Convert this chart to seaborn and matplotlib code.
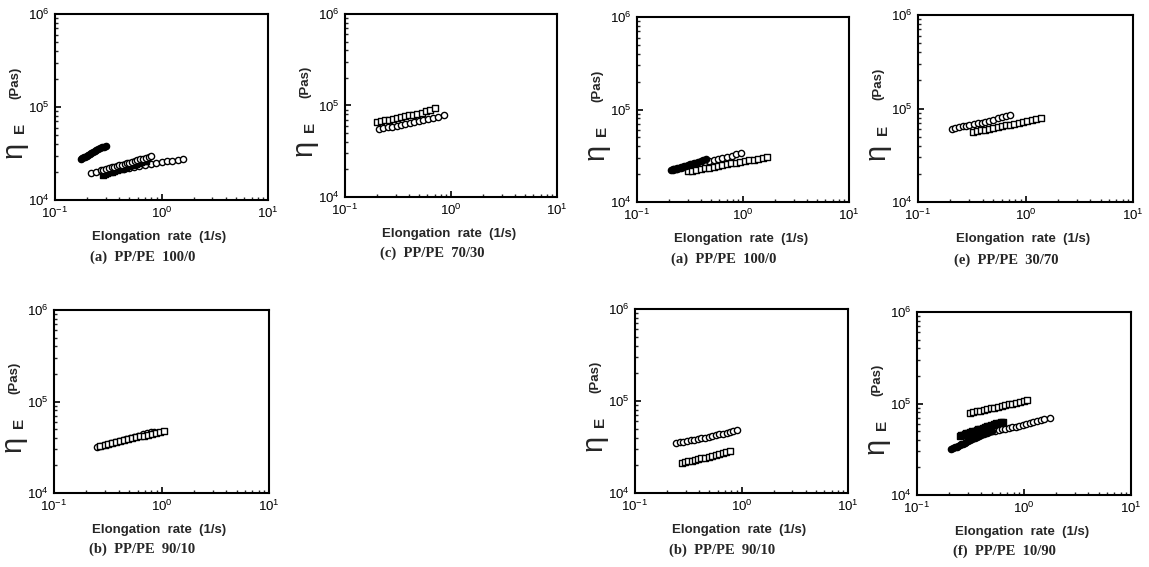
import matplotlib
matplotlib.use("Agg")
import matplotlib.pyplot as plt
import seaborn as sns
import pandas as pd
from matplotlib.ticker import FixedLocator, FixedFormatter, LogLocator, NullFormatter

# ---------------- data ----------------
# Panel (a) PP/PE 100/0  (left group)
pa_dc_x = [0.175, 0.18, 0.186, 0.192, 0.198, 0.205, 0.212, 0.22, 0.228, 0.236, 0.245, 0.255, 0.265, 0.275, 0.287, 0.30]
pa_dc_y = [27600, 28100, 28700, 29300, 29900, 30600, 31300, 32000, 32700, 33400, 34200, 35100, 36000, 36800, 37600, 38400]
pa_oc_x = [0.22, 0.245, 0.275, 0.31, 0.35, 0.39, 0.44, 0.49, 0.55, 0.62, 0.70, 0.79, 0.89, 1.0, 1.12, 1.26, 1.42, 1.58]
pa_oc_y = [19500, 19800, 20100, 20500, 20900, 21300, 21700, 22200, 22700, 23200, 23700, 24200, 24800, 25400, 26000, 26500, 27000, 27500]
pa_ds_x = [0.28, 0.295, 0.31, 0.325, 0.34, 0.36, 0.38, 0.40, 0.42, 0.44, 0.465, 0.49, 0.52, 0.55, 0.58, 0.61, 0.645, 0.68, 0.72]
pa_ds_y = [18800, 19200, 19500, 19900, 20200, 20600, 21000, 21400, 21800, 22200, 22600, 23000, 23500, 24000, 24400, 24900, 25400, 26000, 26500]
pa_dc2_x = [0.27, 0.285, 0.30, 0.32, 0.34, 0.36, 0.38, 0.40, 0.425, 0.45, 0.475, 0.50, 0.53, 0.56, 0.595, 0.63, 0.67, 0.71, 0.755, 0.80]
pa_dc2_y = [20800, 21200, 21600, 22000, 22400, 22800, 23200, 23600, 24000, 24400, 24900, 25300, 25800, 26300, 26800, 27300, 27800, 28300, 28900, 29500]

# Panel (c) PP/PE 70/30
pc_sq_x = [0.20, 0.22, 0.24, 0.26, 0.285, 0.31, 0.34, 0.37, 0.40, 0.44, 0.48, 0.53, 0.58, 0.64, 0.70]
pc_sq_y = [66000, 67300, 68600, 70000, 71500, 73000, 74600, 76200, 77800, 79600, 81500, 83600, 86000, 89000, 93000]
pc_ci_x = [0.21, 0.23, 0.255, 0.28, 0.31, 0.34, 0.37, 0.41, 0.45, 0.50, 0.55, 0.61, 0.68, 0.76, 0.85]
pc_ci_y = [55000, 56200, 57500, 58800, 60200, 61600, 63000, 64600, 66200, 67900, 69700, 71600, 73600, 75800, 78000]

# Panel (b) PP/PE 90/10  (left group)
pb_ci_x = [0.25, 0.27, 0.29, 0.315, 0.34, 0.37, 0.40, 0.435, 0.47, 0.51, 0.56, 0.61, 0.67, 0.74, 0.80, 0.85]
pb_ci_y = [32000, 32900, 33700, 34600, 35500, 36400, 37300, 38300, 39300, 40300, 41400, 42500, 43700, 45000, 46200, 47000]
pb_sq_x = [0.27, 0.295, 0.32, 0.35, 0.38, 0.415, 0.45, 0.49, 0.535, 0.58, 0.63, 0.69, 0.75, 0.82, 0.89, 0.97, 1.05]
pb_sq_y = [33000, 33800, 34600, 35400, 36200, 37000, 37900, 38800, 39700, 40600, 41500, 42400, 43400, 44400, 45400, 46400, 47500]

# Panel (a) PP/PE 100/0  (right group)
qa_dc_x = [0.21, 0.217, 0.225, 0.233, 0.241, 0.25, 0.26, 0.27, 0.28, 0.29, 0.30, 0.315, 0.33, 0.345, 0.36, 0.38, 0.40, 0.42, 0.45]
qa_dc_y = [22000, 22300, 22600, 22900, 23200, 23500, 23800, 24100, 24500, 24800, 25100, 25500, 25900, 26300, 26700, 27200, 27700, 28300, 29000]
qa_ci_x = [0.22, 0.24, 0.26, 0.285, 0.31, 0.34, 0.37, 0.40, 0.44, 0.48, 0.53, 0.58, 0.64, 0.71, 0.78, 0.86, 0.95]
qa_ci_y = [22500, 23000, 23500, 24100, 24700, 25300, 25900, 26500, 27200, 27900, 28600, 29400, 30200, 31000, 31800, 32700, 33500]
qa_sq_x = [0.30, 0.33, 0.36, 0.40, 0.44, 0.48, 0.53, 0.58, 0.64, 0.70, 0.77, 0.85, 0.94, 1.04, 1.15, 1.27, 1.40, 1.55, 1.70]
qa_sq_y = [21500, 21900, 22300, 22700, 23100, 23600, 24100, 24600, 25100, 25600, 26100, 26600, 27100, 27600, 28200, 28800, 29400, 30000, 30500]

# Panel (e) PP/PE 30/70
pe_ci_x = [0.205, 0.22, 0.24, 0.26, 0.28, 0.30, 0.33, 0.36, 0.39, 0.42, 0.46, 0.50, 0.55, 0.60, 0.66, 0.72]
pe_ci_y = [61000, 62100, 63200, 64300, 65400, 66600, 67900, 69300, 70800, 72400, 74200, 76200, 78500, 81000, 83600, 86000]
pe_sq_x = [0.325, 0.355, 0.385, 0.42, 0.46, 0.50, 0.55, 0.60, 0.66, 0.72, 0.79, 0.87, 0.95, 1.04, 1.14, 1.26, 1.40]
pe_sq_y = [56000, 57200, 58300, 59500, 60700, 61900, 63200, 64500, 65800, 67200, 68700, 70300, 72000, 73800, 75800, 77900, 80000]

# Panel (b) PP/PE 90/10  (right group)
qb_ci_x = [0.245, 0.265, 0.285, 0.31, 0.335, 0.36, 0.39, 0.42, 0.455, 0.49, 0.53, 0.575, 0.62, 0.67, 0.725, 0.78, 0.84, 0.90]
qb_ci_y = [34900, 35500, 36100, 36700, 37400, 38000, 38700, 39400, 40100, 40900, 41700, 42500, 43400, 44300, 45200, 46100, 47000, 48000]
qb_sq_x = [0.275, 0.295, 0.315, 0.34, 0.365, 0.39, 0.42, 0.45, 0.49, 0.53, 0.57, 0.62, 0.67, 0.72, 0.78]
qb_sq_y = [21200, 21600, 22000, 22400, 22800, 23300, 23800, 24300, 24800, 25300, 25900, 26500, 27100, 27800, 28400]

# Panel (f) PP/PE 10/90
pf_sq_x = [0.31, 0.335, 0.36, 0.39, 0.42, 0.455, 0.49, 0.53, 0.575, 0.62, 0.67, 0.72, 0.78, 0.85, 0.92, 1.0, 1.07]
pf_sq_y = [79000, 80500, 82000, 83500, 85000, 86600, 88300, 90000, 91800, 93700, 95700, 97800, 100000, 102500, 105000, 107500, 110000]
pf_ds_x = [0.25, 0.26, 0.27, 0.28, 0.29, 0.30, 0.315, 0.33, 0.345, 0.36, 0.375, 0.39, 0.41, 0.43, 0.45, 0.47, 0.49, 0.52, 0.55, 0.58, 0.61, 0.64]
pf_ds_y = [44000, 44800, 45600, 46300, 47100, 47900, 48800, 49700, 50500, 51400, 52200, 53100, 54100, 55200, 56300, 57400, 58400, 59500, 60500, 61300, 62200, 63000]
pf_dc_x = [0.21, 0.218, 0.226, 0.234, 0.242, 0.25, 0.26, 0.27, 0.28, 0.29, 0.30, 0.315, 0.33, 0.345, 0.36, 0.38, 0.40, 0.425, 0.45, 0.475, 0.50]
pf_dc_y = [32000, 32600, 33200, 33800, 34400, 35000, 35700, 36500, 37300, 38100, 38900, 39900, 40900, 41900, 42900, 44100, 45300, 46600, 47800, 48900, 50000]
pf_ci_x = [0.50, 0.54, 0.58, 0.62, 0.67, 0.72, 0.78, 0.84, 0.90, 0.97, 1.05, 1.13, 1.22, 1.32, 1.43, 1.55, 1.75]
pf_ci_y = [49500, 50300, 51100, 52000, 52900, 53900, 54900, 56000, 57100, 58300, 59600, 60900, 62400, 64000, 65700, 67700, 70000]

# axis / text content
x_ticks = [0.1, 1, 10]
x_tick_labels = [r"$10^{-1}$", r"$10^{0}$", r"$10^{1}$"]
y_ticks = [1e4, 1e5, 1e6]
y_tick_labels = [r"$10^{4}$", r"$10^{5}$", r"$10^{6}$"]
x_label = "Elongation  rate  (1/s)"
y_sym = "η"
y_sub = "E"
y_unit = "(Pas)"
captions = ["(a)  PP/PE  100/0", "(c)  PP/PE  70/30", "(a)  PP/PE  100/0", "(e)  PP/PE  30/70",
            "(b)  PP/PE  90/10", "(b)  PP/PE  90/10", "(f)  PP/PE  10/90"]

# ---------------- styling ----------------
sns.set_theme(style="ticks")
plt.rcParams["font.family"] = ["Liberation Sans", "DejaVu Sans"]
plt.rcParams["mathtext.fontset"] = "custom"
plt.rcParams["mathtext.rm"] = "Liberation Sans"
plt.rcParams["mathtext.it"] = "Liberation Sans:italic"
plt.rcParams["mathtext.bf"] = "Liberation Sans:bold"

W, H = 1149, 567
fig = plt.figure(figsize=(W / 100, H / 100), dpi=100)

# axes boxes in pixels: left, top, right, bottom
boxes = [(55, 14, 268, 200), (345, 14, 557, 197), (637, 17, 849, 202), (918, 15, 1133, 202),
         (54, 310, 269, 493), (635, 309, 848, 493), (917, 312, 1131, 495)]

# (x, y, marker, filled-look)
panel_series = [
    [(pa_oc_x, pa_oc_y, "o", False), (pa_ds_x, pa_ds_y, "s", True), (pa_dc2_x, pa_dc2_y, "o", False),
     (pa_dc_x, pa_dc_y, "o", True)],
    [(pc_sq_x, pc_sq_y, "s", False), (pc_ci_x, pc_ci_y, "o", False)],
    [(qa_ci_x, qa_ci_y, "o", False), (qa_sq_x, qa_sq_y, "s", False), (qa_dc_x, qa_dc_y, "o", True)],
    [(pe_ci_x, pe_ci_y, "o", False), (pe_sq_x, pe_sq_y, "s", False)],
    [(pb_ci_x, pb_ci_y, "o", False), (pb_sq_x, pb_sq_y, "s", False)],
    [(qb_ci_x, qb_ci_y, "o", False), (qb_sq_x, qb_sq_y, "s", False)],
    [(pf_sq_x, pf_sq_y, "s", False), (pf_ci_x, pf_ci_y, "o", False), (pf_ds_x, pf_ds_y, "s", True),
     (pf_dc_x, pf_dc_y, "o", True)],
]

for box, series, cap in zip(boxes, panel_series, captions):
    l, t, r, b = box
    ax = fig.add_axes([l / W, 1 - b / H, (r - l) / W, (b - t) / H])
    for xs, ys, mk, filled in series:
        df = pd.DataFrame({"x": xs, "y": ys})
        sns.scatterplot(data=df, x="x", y="y", ax=ax, marker=mk, s=20,
                        edgecolor="black", linewidth=1.0, legend=False)
        coll = ax.collections[-1]
        coll.set_facecolor("black" if filled else "white")
        coll.set_edgecolor("black")
    ax.set_xscale("log")
    ax.set_yscale("log")
    ax.set_xlim(0.1, 10)
    ax.set_ylim(1e4, 1e6)
    ax.xaxis.set_major_locator(FixedLocator(x_ticks))
    ax.xaxis.set_major_formatter(FixedFormatter(x_tick_labels))
    ax.yaxis.set_major_locator(FixedLocator(y_ticks))
    ax.yaxis.set_major_formatter(FixedFormatter(y_tick_labels))
    ax.xaxis.set_minor_locator(LogLocator(base=10, subs=range(2, 10)))
    ax.yaxis.set_minor_locator(LogLocator(base=10, subs=range(2, 10)))
    ax.xaxis.set_minor_formatter(NullFormatter())
    ax.yaxis.set_minor_formatter(NullFormatter())
    ax.tick_params(which="major", direction="in", length=4, width=1.2, labelsize=9.5,
                   colors="black", top=False, right=False, pad=4)
    ax.tick_params(which="minor", direction="in", length=2.5, width=1.0,
                   top=False, right=False)
    for sp in ax.spines.values():
        sp.set_visible(True)
        sp.set_linewidth(1.5)
        sp.set_color("black")
    ax.set_xlabel("")
    ax.set_ylabel("")
    ax.text(0.49, -0.2, x_label, transform=ax.transAxes, ha="center", va="center",
            fontsize=9.5, fontweight="bold")
    ax.text(0.41, -0.31, cap, transform=ax.transAxes, ha="center", va="center",
            fontsize=10.5, fontweight="bold", family=["Liberation Serif", "DejaVu Serif"])
    ax.text(-0.195, 0.27, y_sym, transform=ax.transAxes, ha="center", va="center",
            rotation=90, fontsize=21)
    ax.text(-0.165, 0.385, y_sub, transform=ax.transAxes, ha="center", va="center",
            rotation=90, fontsize=11, fontweight="bold")
    ax.text(-0.185, 0.63, y_unit, transform=ax.transAxes, ha="center", va="center",
            rotation=90, fontsize=9.5, fontweight="bold")

fig.savefig("out.png", dpi=100, facecolor="white")
